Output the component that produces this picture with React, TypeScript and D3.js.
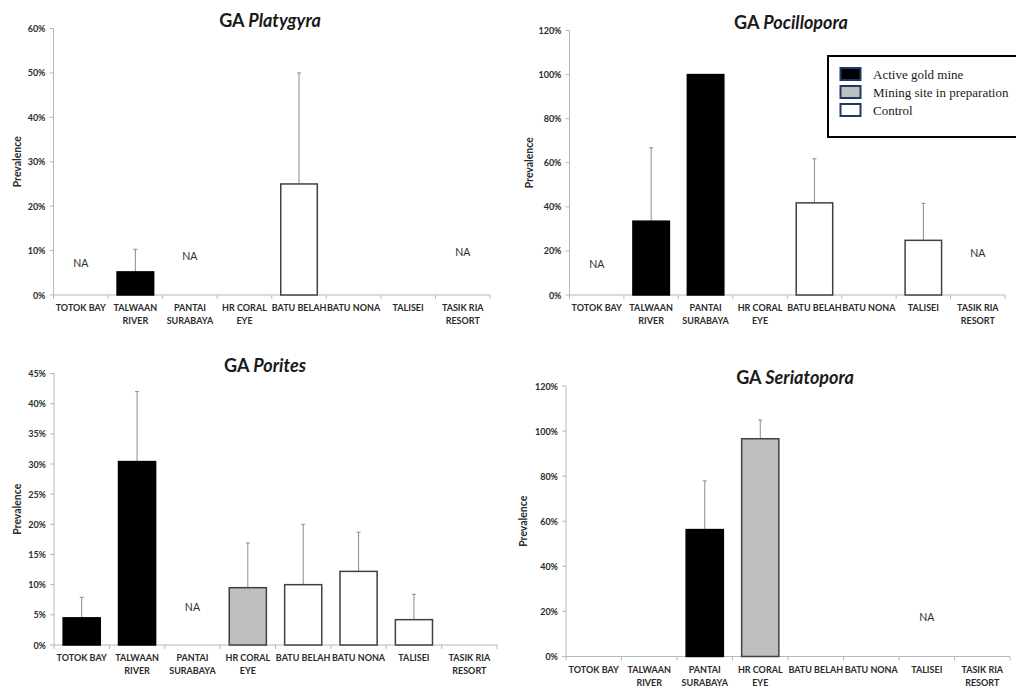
import React from "react";
import * as d3 from "d3";

// Survey sites along the x axis (two-line labels split on "\n")
const sites = [
  "TOTOK BAY",
  "TALWAAN\nRIVER",
  "PANTAI\nSURABAYA",
  "HR CORAL\nEYE",
  "BATU BELAH",
  "BATU NONA",
  "TALISEI",
  "TASIK RIA\nRESORT",
];

// Site category: active gold mine, mining site in preparation, control
const siteGroup = ["active", "active", "active", "preparation", "control", "control", "control", "control"];

// Growth-anomaly prevalence per genus (null = not available, "NA")
const platygyraMean = [null, 0.052, null, 0, 0.25, 0, 0, null];
const platygyraSD = [null, 0.051, null, 0, 0.25, 0, 0, null];

const pocilloporaMean = [null, 0.335, 1.0, 0, 0.418, 0, 0.248, null];
const pocilloporaSD = [null, 0.333, 0, 0, 0.2, 0, 0.168, null];

const poritesMean = [0.045, 0.304, null, 0.095, 0.1, 0.122, 0.042, 0];
const poritesSD = [0.034, 0.116, null, 0.074, 0.1, 0.065, 0.042, 0];

const seriatoporaMean = [0, 0, 0.563, 0.966, 0, 0, null, 0];
const seriatoporaSD = [0, 0, 0.216, 0.083, 0, 0, null, 0];

const legendLabels = ["Active  gold mine", "Mining site  in preparation", "Control"];
const legendKeys = ["active", "preparation", "control"];

const fillByGroup: Record<string, string> = {
  active: "#000000",
  preparation: "#bfbfbf",
  control: "#ffffff",
};
const strokeByGroup: Record<string, string> = {
  active: "#000000",
  preparation: "#404040",
  control: "#404040",
};

const FONT = "Lato, 'Open Sans', sans-serif";
const TEXT = "#2b2b2b";
const AXIS = "#b8b8b8";

type PanelProps = {
  genus: string;
  mean: (number | null)[];
  sd: (number | null)[];
  yMax: number;
  yStep: number;
  x0: number;
  x1: number;
  yTop: number;
  yBot: number;
  titleX: number;
  titleY: number;
  yLabelX: number;
  naLevels: number[];
};

function Panel(p: PanelProps) {
  const x = d3.scaleBand<number>().domain(d3.range(sites.length)).range([p.x0, p.x1]).padding(0);
  const y = d3.scaleLinear().domain([0, p.yMax]).range([p.yBot, p.yTop]);
  const ticks = d3.range(0, p.yMax + p.yStep / 2, p.yStep);
  const bw = x.bandwidth();
  const barW = bw * 0.67;
  const fmt = d3.format(".0%");

  return (
    <g>
      <text
        x={p.titleX}
        y={p.titleY}
        textAnchor="middle"
        dominantBaseline="central"
        fontFamily={FONT}
        fontWeight="bold"
        fontSize={18}
        fill="#1a1a1a"
      >
        GA <tspan fontStyle="italic">{p.genus}</tspan>
      </text>

      {/* y axis */}
      <line x1={p.x0} x2={p.x0} y1={p.yTop} y2={p.yBot} stroke={AXIS} strokeWidth={1} />
      {ticks.map((t) => (
        <g key={t}>
          <line x1={p.x0 - 4} x2={p.x0} y1={y(t)} y2={y(t)} stroke={AXIS} />
          <text
            x={p.x0 - 8}
            y={y(t)}
            textAnchor="end"
            dominantBaseline="central"
            fontFamily={FONT}
            fontWeight="bold"
            fontSize={9}
            fill={TEXT}
          >
            {fmt(t)}
          </text>
        </g>
      ))}
      <text
        transform={`translate(${p.yLabelX},${(p.yTop + p.yBot) / 2}) rotate(-90)`}
        textAnchor="middle"
        dominantBaseline="central"
        fontFamily={FONT}
        fontWeight="bold"
        fontSize={10.5}
        fill={TEXT}
      >
        Prevalence
      </text>

      {/* x axis */}
      <line x1={p.x0} x2={p.x1} y1={p.yBot} y2={p.yBot} stroke={AXIS} strokeWidth={1} />
      {d3.range(sites.length + 1).map((i) => {
        const xx = i < sites.length ? (x(i) as number) : p.x1;
        return <line key={i} x1={xx} x2={xx} y1={p.yBot} y2={p.yBot + 4} stroke={AXIS} />;
      })}
      {sites.map((s, i) => {
        const cx = (x(i) as number) + bw / 2;
        return (
          <text
            key={s}
            x={cx}
            y={p.yBot + 16}
            textAnchor="middle"
            fontFamily={FONT}
            fontWeight="bold"
            fontSize={9}
            fill={TEXT}
          >
            {s.split("\n").map((line, j) => (
              <tspan key={j} x={cx} dy={j === 0 ? 0 : 13}>
                {line}
              </tspan>
            ))}
          </text>
        );
      })}

      {/* bars, error bars and NA markers */}
      {p.mean.map((v, i) => {
        const cx = (x(i) as number) + bw / 2;
        if (v === null) {
          return (
            <text
              key={i}
              x={cx}
              y={y(p.naLevels[i] ?? 0)}
              textAnchor="middle"
              dominantBaseline="central"
              fontFamily={FONT}
              fontSize={10.5}
              fill={TEXT}
            >
              NA
            </text>
          );
        }
        if (v <= 0) return null;
        const g = siteGroup[i];
        const e = p.sd[i] ?? 0;
        return (
          <g key={i}>
            {e > 0 && (
              <g stroke="#8c8c8c" strokeWidth={1}>
                <line x1={cx} x2={cx} y1={y(v)} y2={y(v + e)} />
                <line x1={cx - 2} x2={cx + 2} y1={y(v + e)} y2={y(v + e)} />
              </g>
            )}
            <rect
              x={cx - barW / 2}
              y={y(v)}
              width={barW}
              height={p.yBot - y(v)}
              fill={fillByGroup[g]}
              stroke={strokeByGroup[g]}
              strokeWidth={1.5}
            />
          </g>
        );
      })}
    </g>
  );
}

function Legend() {
  const x = 828;
  const yTop = 56;
  return (
    <g>
      <rect x={x} y={yTop} width={200} height={81} fill="#ffffff" stroke="#000000" strokeWidth={2} />
      {legendLabels.map((label, i) => {
        const cy = 74 + i * 18;
        const key = legendKeys[i];
        return (
          <g key={label}>
            <rect
              x={840.5}
              y={cy - 6}
              width={20}
              height={12}
              fill={fillByGroup[key]}
              stroke="#1f3864"
              strokeWidth={2}
            />
            <text
              x={873}
              y={cy}
              dominantBaseline="central"
              fontFamily="'Liberation Serif', 'DejaVu Serif', serif"
              fontSize={13}
              fill="#1a1a1a"
            >
              {label}
            </text>
          </g>
        );
      })}
    </g>
  );
}

export default function App() {
  return (
    <svg
      width={1016}
      height={691}
      viewBox="0 0 1016 691"
      style={{ position: "absolute", left: 0, top: 0, background: "#ffffff" }}
    >
      <rect x={0} y={0} width={1016} height={691} fill="#ffffff" />
      <Panel
        genus="Platygyra"
        mean={platygyraMean}
        sd={platygyraSD}
        yMax={0.6}
        yStep={0.1}
        x0={53.5}
        x1={490}
        yTop={28.5}
        yBot={295}
        titleX={270}
        titleY={20}
        yLabelX={17}
        naLevels={[0.072, 0, 0.087, 0, 0, 0, 0, 0.097]}
      />
      <Panel
        genus="Pocillopora"
        mean={pocilloporaMean}
        sd={pocilloporaSD}
        yMax={1.2}
        yStep={0.2}
        x0={569.5}
        x1={1005}
        yTop={30.5}
        yBot={295}
        titleX={791}
        titleY={22}
        yLabelX={529}
        naLevels={[0.14, 0, 0, 0, 0, 0, 0, 0.19]}
      />
      <Panel
        genus="Porites"
        mean={poritesMean}
        sd={poritesSD}
        yMax={0.45}
        yStep={0.05}
        x0={54}
        x1={497}
        yTop={373.5}
        yBot={645}
        titleX={265}
        titleY={365}
        yLabelX={17}
        naLevels={[0, 0, 0.063, 0, 0, 0, 0, 0]}
      />
      <Panel
        genus="Seriatopora"
        mean={seriatoporaMean}
        sd={seriatoporaSD}
        yMax={1.2}
        yStep={0.2}
        x0={566}
        x1={1010}
        yTop={386}
        yBot={656.5}
        titleX={795}
        titleY={377}
        yLabelX={523}
        naLevels={[0, 0, 0, 0, 0, 0, 0.176, 0]}
      />
      <Legend />
    </svg>
  );
}
